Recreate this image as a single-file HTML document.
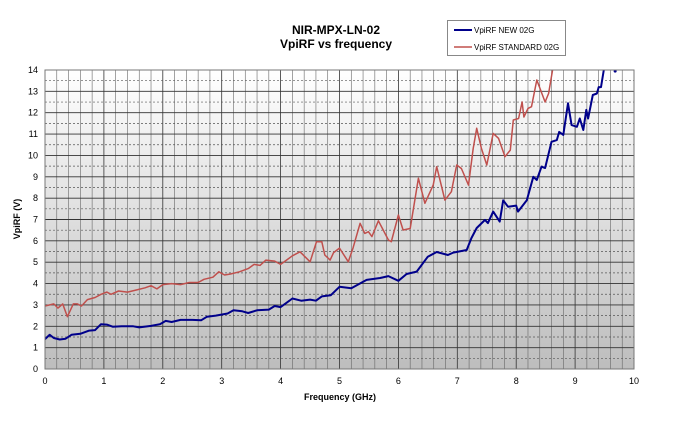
<!DOCTYPE html>
<html><head><meta charset="utf-8"><style>
body{margin:0;background:#fff;width:680px;height:418px;overflow:hidden;font-family:"Liberation Sans",Arial,sans-serif}
</style></head><body>
<svg id="s" width="680" height="418" xmlns="http://www.w3.org/2000/svg" font-family="Liberation Sans, Arial, sans-serif">
<defs><linearGradient id="g" x1="0" y1="0" x2="0" y2="1"><stop offset="0" stop-color="#ffffff"/><stop offset="1" stop-color="#bdbdbd"/></linearGradient>
<clipPath id="c"><rect x="45" y="70" width="589" height="299"/></clipPath></defs>
<rect x="45" y="70" width="589" height="299" fill="url(#g)"/>
<g id="grid"></g>
<g id="lines" clip-path="url(#c)"></g>
<rect x="45" y="70" width="589" height="299" fill="none" stroke="#777" stroke-width="1"/>
<text x="336" y="34" text-anchor="middle" font-size="12" font-weight="bold">NIR-MPX-LN-02</text>
<text x="336" y="48" text-anchor="middle" font-size="12" font-weight="bold">VpiRF vs frequency</text>
<rect x="447.5" y="20.5" width="118" height="35" fill="#fff" stroke="#888"/>
<line x1="454" y1="30" x2="472" y2="30" stroke="#00008b" stroke-width="2"/>
<text x="474" y="33" font-size="8">VpiRF NEW 02G</text>
<line x1="454" y1="47" x2="472" y2="47" stroke="#c0504d" stroke-width="1.5"/>
<text x="474" y="50" font-size="8">VpiRF STANDARD 02G</text>
<text x="340" y="400" text-anchor="middle" font-size="9" font-weight="bold">Frequency (GHz)</text>
<text transform="translate(20,219) rotate(-90)" text-anchor="middle" font-size="9" font-weight="bold">VpiRF (V)</text>
</svg>
<script>
var NS="http://www.w3.org/2000/svg",s=document.getElementById('s'),gr=document.getElementById('grid'),ln=document.getElementById('lines');
function X(v){return 45+v*58.9}function Y(v){return 369-v*21.357}
function el(p,t,a){var e=document.createElementNS(NS,t);for(var k in a)e.setAttribute(k,a[k]);p.appendChild(e);return e}
for(var i=0;i<=50;i++){var x=X(i/5);el(gr,'line',{x1:x,x2:x,y1:70,y2:369,stroke:i%5?'#666':'#333','stroke-width':i%5?0.6:0.8});}
for(var j=0;j<=28;j++){var y=Y(j/2);el(gr,'line',{x1:45,x2:634,y1:y,y2:y,stroke:j%2?'#555':'#333','stroke-width':j%2?0.7:0.9,'stroke-dasharray':j%2?'2,2':''});}
for(var i=0;i<=10;i++){var t=el(s,'text',{x:X(i),y:384,'text-anchor':'middle','font-size':9});t.textContent=i;}
for(var j=0;j<=14;j++){var t=el(s,'text',{x:38,y:Y(j)+3,'text-anchor':'end','font-size':9});t.textContent=j;}
var blue=[[0,1.4],[0.08,1.6],[0.15,1.45],[0.25,1.38],[0.35,1.42],[0.45,1.6],[0.6,1.65],[0.75,1.8],[0.85,1.82],[0.95,2.1],[1.05,2.08],[1.15,1.98],[1.3,2.0],[1.5,2.0],[1.6,1.95],[1.8,2.02],[1.95,2.1],[2.05,2.25],[2.15,2.2],[2.3,2.3],[2.5,2.3],[2.65,2.28],[2.75,2.45],[2.9,2.5],[3.1,2.6],[3.2,2.75],[3.35,2.7],[3.45,2.62],[3.6,2.75],[3.8,2.78],[3.9,2.95],[4.0,2.9],[4.1,3.1],[4.2,3.3],[4.35,3.2],[4.5,3.25],[4.6,3.2],[4.7,3.4],[4.85,3.45],[5.0,3.85],[5.2,3.78],[5.46,4.17],[5.69,4.26],[5.83,4.35],[6.0,4.13],[6.14,4.45],[6.31,4.56],[6.5,5.26],[6.65,5.48],[6.84,5.34],[6.93,5.45],[7.16,5.57],[7.24,6.13],[7.33,6.6],[7.47,6.98],[7.52,6.83],[7.61,7.37],[7.72,6.9],[7.78,7.9],[7.86,7.6],[8.0,7.65],[8.03,7.37],[8.18,7.9],[8.29,9.0],[8.35,8.85],[8.43,9.47],[8.49,9.41],[8.6,10.64],[8.69,10.72],[8.73,11.1],[8.8,10.96],[8.88,12.44],[8.94,11.42],[9.03,11.34],[9.08,11.73],[9.14,11.19],[9.19,12.13],[9.22,11.73],[9.3,12.83],[9.37,12.9],[9.4,13.2],[9.44,13.2],[9.5,14.2]];
var red=[[0,2.95],[0.08,3.0],[0.15,3.05],[0.22,2.85],[0.3,3.05],[0.38,2.45],[0.48,3.05],[0.55,3.05],[0.62,2.95],[0.72,3.25],[0.85,3.35],[0.95,3.5],[1.05,3.6],[1.12,3.5],[1.25,3.65],[1.4,3.6],[1.55,3.7],[1.7,3.8],[1.8,3.9],[1.9,3.75],[2.0,3.95],[2.15,4.0],[2.3,3.95],[2.45,4.05],[2.6,4.05],[2.7,4.2],[2.85,4.3],[2.95,4.55],[3.05,4.4],[3.15,4.45],[3.3,4.55],[3.45,4.7],[3.55,4.9],[3.65,4.85],[3.75,5.1],[3.9,5.05],[4.0,4.9],[4.1,5.1],[4.2,5.3],[4.33,5.49],[4.5,5.02],[4.61,5.96],[4.7,5.96],[4.75,5.34],[4.84,5.1],[4.9,5.45],[5.0,5.66],[5.15,5.02],[5.23,5.66],[5.35,6.82],[5.43,6.35],[5.49,6.43],[5.55,6.2],[5.66,6.94],[5.83,6.04],[5.88,5.96],[6.0,7.21],[6.08,6.51],[6.2,6.58],[6.34,8.93],[6.45,7.76],[6.59,8.61],[6.65,9.47],[6.79,7.91],[6.9,8.3],[6.99,9.55],[7.07,9.39],[7.19,8.61],[7.27,10.33],[7.33,11.27],[7.41,10.33],[7.5,9.55],[7.61,11.03],[7.7,10.8],[7.81,9.94],[7.9,10.25],[7.95,11.66],[8.04,11.73],[8.1,12.5],[8.13,11.8],[8.2,12.2],[8.26,12.28],[8.35,13.53],[8.49,12.5],[8.55,12.9],[8.63,14.2]];
function pl(d,c,w){el(ln,'polyline',{points:d.map(function(p){return X(p[0]).toFixed(1)+','+Y(p[1]).toFixed(1)}).join(' '),fill:'none',stroke:c,'stroke-width':w,'stroke-linejoin':'round'});}
pl(red,'#c0504d',1.5);pl(blue,'#00008b',2);
el(ln,'circle',{cx:X(9.68),cy:Y(13.95),r:1.5,fill:'#00008b'});
</script>
</body></html>
